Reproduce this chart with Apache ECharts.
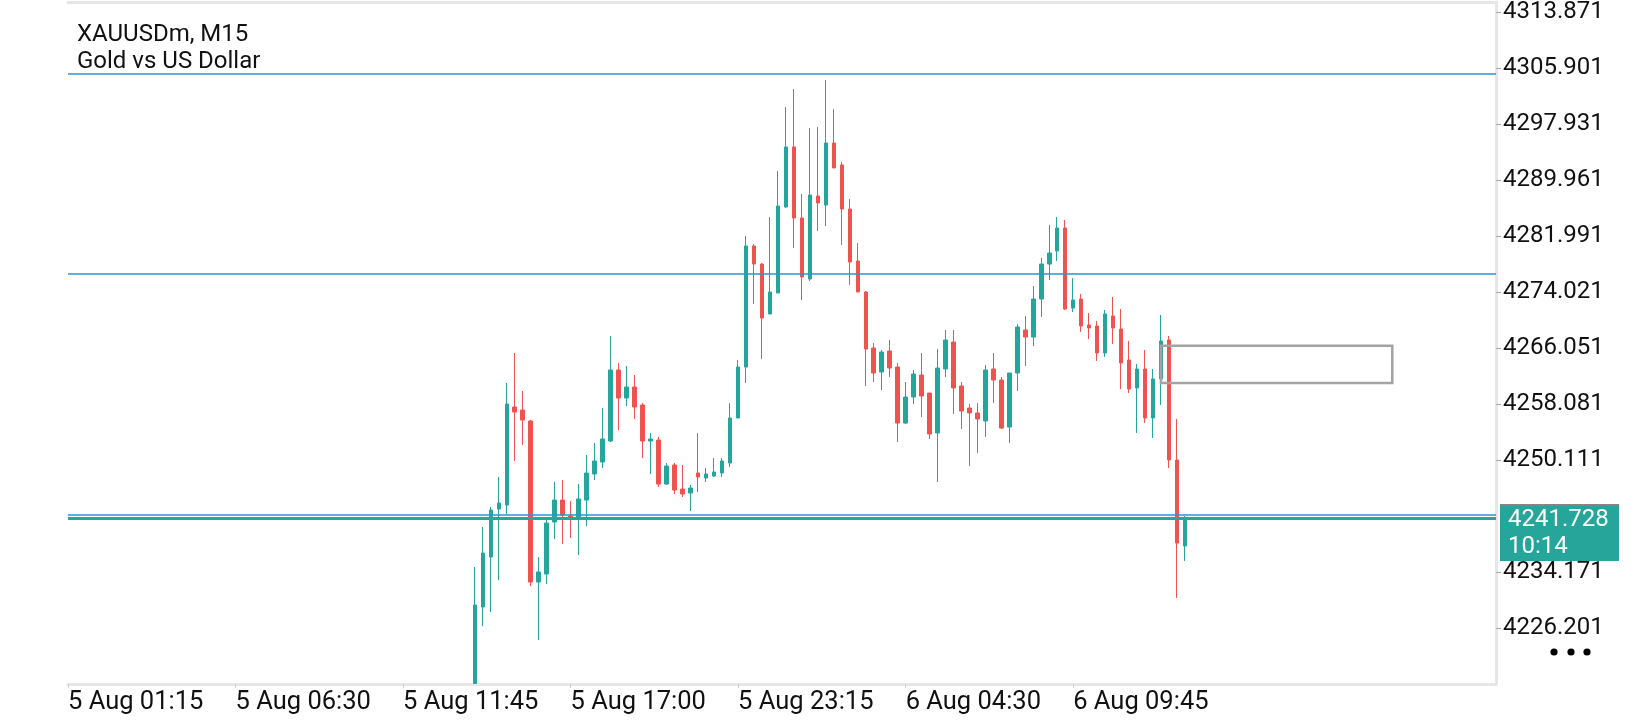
<!DOCTYPE html>
<html>
<head>
<meta charset="utf-8">
<title>XAUUSDm, M15</title>
<script src="https://cdn.jsdelivr.net/npm/echarts@6/dist/echarts.min.js"></script>
<style>
    html, body { margin: 0; padding: 0; background: #fff; }
    #chart { width: 1640px; height: 720px; }
</style>
</head>
<body>
<div id="chart"></div>
<script>
// XAUUSDm M15, 5 Aug 14:00 -> 6 Aug 13:15 (earlier bars sit below the visible range)

var symbolName = 'XAUUSDm, M15',
    symbolDesc = 'Gold vs US Dollar';

var firstBar = '5 Aug 14:00';

// first bar opens below the visible range, cut at the bottom edge
var opens = [4218.30, 4229.19, 4236.30, 4243.13, 4243.70, 4257.65, 4257.22, 4255.66, 4232.74, 4233.88,
    4241.28, 4244.41, 4242.14, 4241.99, 4244.41, 4248.12, 4249.82, 4252.81, 4262.92, 4258.93,
    4260.50, 4257.94, 4252.81, 4252.95, 4246.69, 4249.40, 4245.98, 4245.41, 4248.26, 4247.55,
    4247.83, 4248.26, 4249.68, 4256.09, 4263.34, 4280.57, 4278.00, 4270.89, 4273.88, 4286.12,
    4294.66, 4284.55, 4275.87, 4287.68, 4286.40, 4295.23, 4292.10, 4285.83, 4278.43, 4274.02,
    4266.05, 4262.63, 4265.62, 4263.34, 4255.37, 4259.07, 4262.21, 4259.64, 4253.95, 4263.06,
    4266.90, 4260.64, 4257.51, 4256.80, 4255.66, 4263.06, 4261.49, 4254.80, 4262.49, 4268.61,
    4267.61, 4273.02, 4278.00, 4279.85, 4283.13, 4271.74, 4273.02, 4269.32, 4269.18, 4265.34,
    4270.60, 4268.75, 4264.34, 4260.36, 4263.06, 4256.09, 4261.64, 4267.19, 4250.11, 4237.87];

var closes = [4229.47, 4236.87, 4242.99, 4243.99, 4258.08, 4256.94, 4255.80, 4232.74, 4234.17, 4241.14,
    4244.41, 4242.28, 4241.85, 4244.56, 4248.26, 4249.97, 4253.10, 4262.92, 4258.93, 4260.50,
    4257.65, 4252.81, 4253.10, 4246.69, 4249.25, 4245.84, 4245.27, 4246.12, 4247.69, 4248.12,
    4248.40, 4249.97, 4256.09, 4263.34, 4280.57, 4278.00, 4270.32, 4274.02, 4286.26, 4294.66,
    4284.55, 4276.15, 4287.83, 4286.69, 4295.23, 4291.67, 4285.83, 4278.29, 4274.02, 4265.91,
    4262.49, 4265.48, 4263.20, 4255.37, 4259.07, 4262.35, 4259.22, 4253.81, 4263.20, 4267.19,
    4260.36, 4257.08, 4256.80, 4255.94, 4262.92, 4261.49, 4254.66, 4262.49, 4269.04, 4267.61,
    4273.02, 4278.00, 4279.57, 4283.13, 4271.60, 4272.88, 4269.18, 4268.90, 4265.34, 4270.89,
    4268.90, 4263.91, 4260.21, 4263.06, 4256.09, 4261.64, 4267.05, 4250.11, 4238.29, 4241.728];

var lows = [4218.30, 4226.48, 4228.47, 4233.03, 4242.42, 4249.97, 4252.24, 4232.17, 4224.49, 4232.46,
    4238.86, 4238.15, 4239.01, 4236.59, 4240.71, 4247.26, 4248.97, 4252.67, 4254.38, 4257.79,
    4255.94, 4250.39, 4248.12, 4246.27, 4246.55, 4245.27, 4244.84, 4242.85, 4245.55, 4246.98,
    4247.69, 4247.69, 4249.11, 4256.09, 4261.07, 4272.31, 4264.48, 4270.89, 4273.88, 4285.97,
    4280.28, 4272.88, 4275.58, 4282.70, 4283.41, 4291.67, 4280.71, 4275.02, 4274.02, 4260.64,
    4261.21, 4260.07, 4261.92, 4252.67, 4255.23, 4258.08, 4256.23, 4253.10, 4246.98, 4261.92,
    4256.66, 4254.52, 4249.25, 4251.10, 4253.38, 4258.22, 4254.52, 4252.53, 4259.93, 4263.49,
    4266.33, 4270.46, 4275.73, 4278.43, 4271.46, 4271.17, 4268.33, 4267.33, 4264.20, 4264.77,
    4266.62, 4260.21, 4259.64, 4253.95, 4255.37, 4253.24, 4257.94, 4248.97, 4230.47, 4235.73];

var highs = [4234.88, 4240.57, 4243.42, 4247.69, 4261.07, 4265.34, 4259.93, 4255.80, 4236.30, 4241.57,
    4246.98, 4247.26, 4244.27, 4246.69, 4250.82, 4252.53, 4257.51, 4267.76, 4263.91, 4263.49,
    4262.21, 4258.22, 4253.95, 4253.38, 4249.68, 4249.68, 4249.40, 4246.55, 4253.95, 4248.97,
    4250.39, 4250.39, 4258.22, 4264.34, 4281.99, 4280.85, 4278.15, 4284.69, 4291.24, 4300.35,
    4302.91, 4287.97, 4297.36, 4297.50, 4304.19, 4300.07, 4292.52, 4287.26, 4280.99, 4274.16,
    4266.76, 4265.76, 4267.19, 4263.91, 4261.21, 4262.92, 4265.34, 4259.64, 4265.91, 4268.61,
    4268.61, 4261.21, 4258.08, 4258.22, 4263.63, 4265.34, 4261.92, 4262.49, 4269.46, 4270.60,
    4274.87, 4278.86, 4283.56, 4284.69, 4284.27, 4276.01, 4273.73, 4271.03, 4269.89, 4271.46,
    4273.31, 4271.60, 4267.05, 4263.77, 4265.76, 4263.06, 4270.75, 4267.76, 4255.94, 4242.14];

// price scale labels (the 4242.141 one is hidden under the price tag)
var priceTicks = [4226.201, 4234.171, 4250.111, 4258.081, 4266.051, 4274.021,
    4281.991, 4289.961, 4297.931, 4305.901, 4313.871];
var priceMin = 4218.23,
    priceMax = 4315.29;

var timeTicks = ['5 Aug 01:15', '5 Aug 06:30', '5 Aug 11:45', '5 Aug 17:00',
    '5 Aug 23:15', '6 Aug 04:30', '6 Aug 09:45'];
var slotCount = 180;

// objects drawn on the chart
var userLines = [4305.05, 4276.68, 4242.30];
var askPrice = 4241.95,
    bidPrice = 4241.728,
    barTimer = '10:14';
var boxFrom = '6 Aug 12:30',
    boxTo = '6 Aug 19:45',
    boxTop = 4266.38,
    boxBottom = 4261.07;

var UP = '#26a69a',
    DOWN = '#ef5350',
    LINE = '#2b93d1',
    FONT = 'Roboto, "Noto Sans", sans-serif';

function pad(n) {
    return (n < 10 ? '0' : '') + n;
}

// M15 slots, with the daily 22:00-22:45 break skipped
function buildTimes(count) {
    var out = [], day = 5, m = 75;
    while (out.length < count) {
        var h = Math.floor(m / 60);
        if (h !== 22) {
            out.push(day + ' Aug ' + pad(h) + ':' + pad(m % 60));
        }
        m += 15;
        if (m >= 1440) {
            m -= 1440;
            day++;
        }
    }
    return out;
}

var times = buildTimes(slotCount);
var start = times.indexOf(firstBar);

var candles = [];
for (var i = 0; i < opens.length; i++) {
    candles.push([start + i, opens[i], closes[i], lows[i], highs[i]]);
}

function isTimeTick(idx, val) {
    return timeTicks.indexOf(val) >= 0;
}

var chart = echarts.init(document.getElementById('chart'));

var option = {
    animation: false,
    backgroundColor: '#fff',
    textStyle: { fontFamily: FONT },
    title: {
        text: symbolName + '\n' + symbolDesc,
        left: 77,
        top: 21,
        padding: 0,
        textStyle: {
            fontFamily: FONT,
            fontSize: 24,
            lineHeight: 27,
            fontWeight: 'normal',
            color: '#111'
        }
    },
    grid: {
        left: 68,
        right: 144,
        top: 2,
        bottom: 36
    },
    xAxis: [{
        type: 'category',
        data: times,
        boundaryGap: false,
        axisLine: { lineStyle: { color: '#e6e6e6', width: 3 } },
        axisTick: {
            show: true,
            interval: isTimeTick,
            length: 4,
            lineStyle: { color: '#cfcfcf' }
        },
        axisLabel: {
            interval: isTimeTick,
            align: 'left',
            margin: 6,
            fontSize: 25.5,
            fontFamily: FONT,
            color: '#111'
        },
        splitLine: { show: false }
    }, {
        // top frame line only
        type: 'category',
        data: times,
        position: 'top',
        boundaryGap: false,
        axisLine: { lineStyle: { color: '#e6e6e6', width: 3 } },
        axisTick: { show: false },
        axisLabel: { show: false }
    }],
    yAxis: {
        type: 'value',
        position: 'right',
        min: priceMin,
        max: priceMax,
        scale: true,
        axisLine: { show: true, lineStyle: { color: '#e6e6e6', width: 3 } },
        axisTick: {
            show: true,
            customValues: priceTicks,
            length: 5,
            lineStyle: { color: '#aaaaaa' }
        },
        axisLabel: {
            customValues: priceTicks,
            margin: 7,
            fontSize: 24,
            fontFamily: FONT,
            color: '#111',
            formatter: function (v) {
                return v.toFixed(3);
            }
        },
        splitLine: { show: false }
    },
    series: [{
        type: 'candlestick',
        data: candles,
        encode: { x: 0, y: [1, 2, 3, 4] },
        barWidth: 4,
        clip: true,
        itemStyle: {
            color: UP,
            color0: DOWN,
            borderColor: UP,
            borderColor0: DOWN,
            borderWidth: 1
        },
        markLine: {
            silent: true,
            symbol: ['none', 'none'],
            label: { show: false },
            data: userLines.map(function (v) {
                return { yAxis: v, lineStyle: { color: LINE, width: 1.5, type: 'solid' } };
            }).concat([
                { yAxis: askPrice, lineStyle: { color: DOWN, width: 1.2, type: 'solid' } },
                { yAxis: bidPrice, lineStyle: { color: UP, width: 2, type: 'solid' } }
            ])
        },
        markArea: {
            silent: true,
            z: 6,
            itemStyle: {
                color: 'rgba(0,0,0,0)',
                borderColor: '#a3a3a3',
                borderWidth: 2.5
            },
            data: [[
                { xAxis: boxFrom, yAxis: boxTop },
                { xAxis: boxTo, yAxis: boxBottom }
            ]]
        }
    }]
};

chart.setOption(option);

// current price tag + menu dots on the price scale
var bidY = chart.convertToPixel({ yAxisIndex: 0 }, bidPrice);

chart.setOption({
    graphic: [{
        type: 'rect',
        shape: { x: 1500, y: bidY - 15, width: 119, height: 57 },
        style: { fill: UP },
        z: 10
    }, {
        type: 'rect',
        shape: { x: 1500, y: bidY - 15, width: 119, height: 1.5 },
        style: { fill: '#8d8383' },
        z: 11
    }, {
        type: 'text',
        x: 1508,
        y: bidY + 1,
        style: {
            text: bidPrice.toFixed(3),
            fill: '#fff',
            font: '24px ' + FONT,
            verticalAlign: 'middle'
        },
        z: 11
    }, {
        type: 'text',
        x: 1508,
        y: bidY + 28,
        style: {
            text: barTimer,
            fill: '#fff',
            font: '24px ' + FONT,
            verticalAlign: 'middle'
        },
        z: 11
    }, {
        type: 'circle',
        shape: { cx: 1554, cy: 652, r: 3.6 },
        style: { fill: '#000' }
    }, {
        type: 'circle',
        shape: { cx: 1571, cy: 652, r: 3.6 },
        style: { fill: '#000' }
    }, {
        type: 'circle',
        shape: { cx: 1587, cy: 652, r: 3.6 },
        style: { fill: '#000' }
    }]
});
</script>
</body>
</html>
